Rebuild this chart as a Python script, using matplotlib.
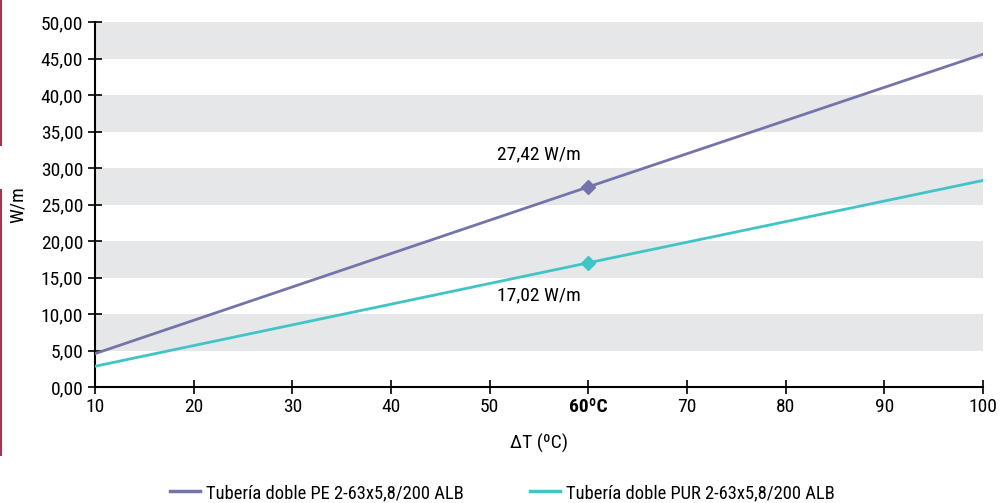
import matplotlib.pyplot as plt
from matplotlib.lines import Line2D

plt.rcParams['font.family'] = ['Roboto Condensed', 'Archivo Narrow', 'PT Sans Narrow',
                               'Liberation Sans Narrow', 'DejaVu Sans']

delta_t = [10, 60, 100]
pe_values = [4.57, 27.42, 45.6]
pur_values = [2.84, 17.02, 28.3]
x_ticks = [10, 20, 30, 40, 50, 60, 70, 80, 90, 100]
y_ticks = [0, 5, 10, 15, 20, 25, 30, 35, 40, 45, 50]
pe_label = 'Tubería doble PE 2-63x5,8/200 ALB'
pur_label = 'Tubería doble PUR 2-63x5,8/200 ALB'
pe_color = '#7474aa'
pur_color = '#40c4c6'

fig = plt.figure(figsize=(10.05, 5.03), dpi=100)
ax = fig.add_axes([0.0945, 0.2306, 0.8835, 0.7254])

# grey bands every other 5 units
for lo in range(5, 50, 10):
    ax.axhspan(lo, lo + 5, color='#e6e7e8', lw=0, zorder=0)

ax.plot(delta_t, pe_values, color=pe_color, lw=2, zorder=3)
ax.plot(delta_t, pur_values, color=pur_color, lw=2, zorder=3)
ax.plot(delta_t[1], pe_values[1], marker='D', ms=7, color=pe_color, zorder=4)
ax.plot(delta_t[1], pur_values[1], marker='D', ms=7, color=pur_color, zorder=4)

ax.text(delta_t[1] - 5, pe_values[1] + 4.5, '27,42 W/m', fontsize=14, ha='center', va='center')
ax.text(delta_t[1] - 5, pur_values[1] - 4.5, '17,02 W/m', fontsize=14, ha='center', va='center')

ax.set_xlim(10, 100)
ax.set_ylim(0, 50)
ax.set_xticks(x_ticks)
ax.set_xticklabels(['60ºC' if t == 60 else str(t) for t in x_ticks])
for lbl in ax.get_xticklabels():
    if lbl.get_text() == '60ºC':
        lbl.set_fontweight('bold')
ax.set_yticks(y_ticks)
ax.set_yticklabels([f'{v:.2f}'.replace('.', ',') for v in y_ticks])
ax.tick_params(direction='inout', length=10, width=1.2, labelsize=14, color='black')
ax.tick_params(axis='x', pad=3)

for side in ['top', 'right']:
    ax.spines[side].set_visible(False)
for side in ['left', 'bottom']:
    ax.spines[side].set_linewidth(1.5)

ax.set_xlabel('ΔT (ºC)', fontsize=14, labelpad=13)
ax.set_ylabel('W/m', fontsize=14, labelpad=10)

handles = [Line2D([], [], color=pe_color, lw=2.5), Line2D([], [], color=pur_color, lw=2.5)]
fig.legend(handles, [pe_label, pur_label], loc='center', bbox_to_anchor=(0.5, 0.02),
           ncol=2, frameon=False, fontsize=13.3, columnspacing=3.6, handlelength=1.6,
           handletextpad=0.35)

# red edge marks on the left
fig.add_artist(Line2D([0.001, 0.001], [1 - 145 / 503, 1.0], color='#a8344e', lw=1.5))
fig.add_artist(Line2D([0.001, 0.001], [1 - 455 / 503, 1 - 190 / 503], color='#a8344e', lw=1.5))

fig.savefig('out.png', dpi=100)
